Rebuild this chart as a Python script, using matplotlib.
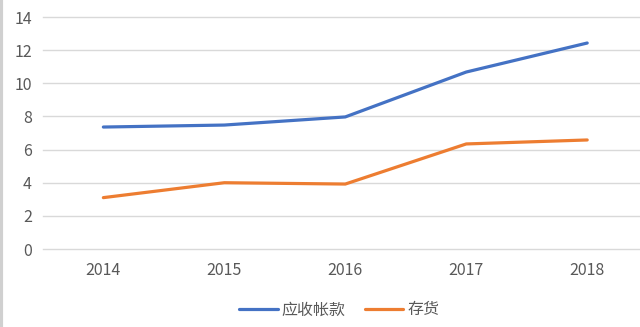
import matplotlib.pyplot as plt
from matplotlib.lines import Line2D

plt.rcParams['font.family'] = ['Noto Sans CJK SC', 'DejaVu Sans']

# Data
years = ['2014', '2015', '2016', '2017', '2018']
receivables = [7.36, 7.48, 7.97, 10.68, 12.43]
inventory = [3.1, 4.0, 3.92, 6.34, 6.58]

fig = plt.figure(figsize=(6.4, 3.27), dpi=100)
ax = fig.add_axes([0.067, 0.2385, 0.945, 0.7095])

x = range(len(years))
ax.plot(x, receivables, color='#4472C4', linewidth=2.3, label='应收帐款', solid_capstyle='round')
ax.plot(x, inventory, color='#ED7D31', linewidth=2.3, label='存货', solid_capstyle='round')

ax.set_xlim(-0.5, len(years) - 0.5)
ax.set_ylim(0, 14)
ax.set_yticks(range(0, 15, 2))
ax.set_xticks(list(x))
ax.set_xticklabels(years)

# Excel-like styling: light grid, no spines, no tick marks
ax.grid(axis='y', color='#d9d9d9', linewidth=1)
for gl in ax.get_ygridlines():
    gl.set_clip_on(False)
ax.set_axisbelow(True)
for s in ax.spines.values():
    s.set_visible(False)
ax.tick_params(axis='both', length=0, labelsize=11.5, labelcolor='#595959')
ax.tick_params(axis='y', pad=8)
ax.tick_params(axis='x', pad=9)

fig.legend(loc='center', bbox_to_anchor=(0.53, 0.052), ncol=2, frameon=False,
           fontsize=11.5, labelcolor='#595959', handlelength=2.4,
           handletextpad=0.25, columnspacing=1.2)

# thin gray border on the left edge of the picture
fig.add_artist(Line2D([0.002, 0.002], [0, 1], color='#d0d0d0', linewidth=3,
                      transform=fig.transFigure))

fig.savefig('out.png', dpi=100)
